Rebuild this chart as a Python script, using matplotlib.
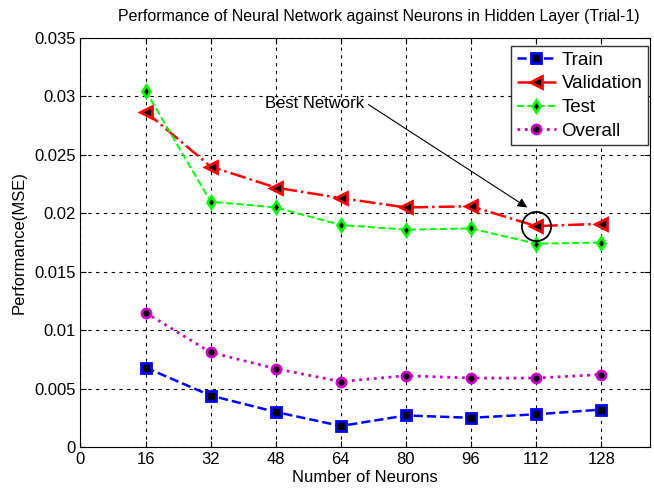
import matplotlib
matplotlib.use("Agg")
import matplotlib.pyplot as plt

neurons = [16, 32, 48, 64, 80, 96, 112, 128]
train = [0.0068, 0.0044, 0.0030, 0.0018, 0.0027, 0.0025, 0.0028, 0.0032]
validation = [0.0287, 0.0240, 0.0222, 0.0213, 0.0205, 0.0206, 0.0189, 0.0191]
test = [0.0305, 0.0210, 0.0205, 0.0190, 0.0186, 0.0187, 0.0174, 0.0175]
overall = [0.0115, 0.0081, 0.0067, 0.0056, 0.0061, 0.0059, 0.0059, 0.0062]
xticks = [0, 16, 32, 48, 64, 80, 96, 112, 128]
yticks = [0, 0.005, 0.01, 0.015, 0.02, 0.025, 0.03, 0.035]
ytick_labels = ["0", "0.005", "0.01", "0.015", "0.02", "0.025", "0.03", "0.035"]
best_x, best_y = 112, 0.0189

plt.rcParams['font.family'] = ['Liberation Sans', 'DejaVu Sans']

fig = plt.figure(figsize=(6.54, 4.98), dpi=100)
ax = fig.add_axes([0.123, 0.1024, 0.871, 0.8213])

ax.plot(neurons, train, '--', color='blue', lw=1.8, marker='s', ms=6.5,
        mfc='black', mec='blue', mew=2, label='Train')
ax.plot(neurons, validation, '-.', color='red', lw=1.8, marker='<', ms=8.5,
        mfc='black', mec='red', mew=2, label='Validation')
ax.plot(neurons, test, '--', color='#00ff00', lw=1.4, marker='d', ms=6.5,
        mfc='black', mec='#00ff00', mew=2, label='Test')
ax.plot(neurons, overall, ':', color='#cc00cc', lw=2, marker='o', ms=6.5,
        mfc='black', mec='#cc00cc', mew=2, label='Overall')

ax.plot([best_x], [best_y], 'o', ms=21, mfc='none', mec='black', mew=1.3)
ax.annotate('Best Network', xy=(109.8, 0.0205), xytext=(69.8, 0.0294),
            fontsize=12, ha='right', va='center',
            arrowprops=dict(arrowstyle='-|>', color='black', lw=0.8,
                            shrinkA=1, shrinkB=0, mutation_scale=14,
                            relpos=(1.0, 0.6)))

ax.set_xlim(0, 140)
ax.set_ylim(0, 0.035)
ax.set_xticks(xticks)
ax.set_yticks(yticks)
ax.set_yticklabels(ytick_labels)
ax.tick_params(direction='in', labelsize=12, length=4, top=True, right=True)
ax.grid(True, color='black', linestyle=(0, (3, 4)), lw=0.8)
ax.set_axisbelow(True)

fig.text(379 / 654, 1 - 16 / 498,
         'Performance of Neural Network against Neurons in Hidden Layer (Trial-1)',
         fontsize=11.5, ha='center', va='center')
ax.set_xlabel('Number of Neurons', fontsize=12, labelpad=2)
ax.set_ylabel('Performance(MSE)', fontsize=12, labelpad=5)

leg = ax.legend(loc='upper right', fontsize=13.5, fancybox=False, framealpha=1,
                edgecolor='#333333', handlelength=2.1, handletextpad=0.3,
                bbox_to_anchor=(648 / 654, 1 - 46 / 498),
                bbox_transform=fig.transFigure, borderaxespad=0,
                labelspacing=0.35, borderpad=0.3)
leg.get_frame().set_linewidth(1.0)

fig.savefig('out.png', dpi=100)
